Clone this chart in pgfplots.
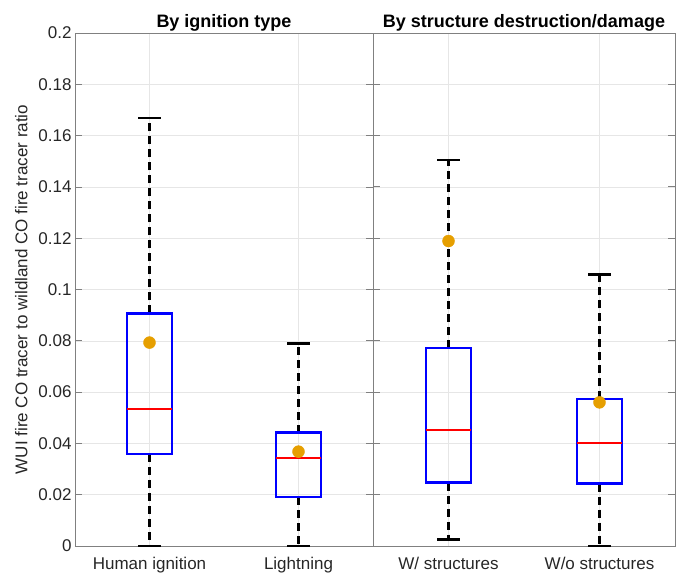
\documentclass[border=0pt]{standalone}
\usepackage{pgfplots}
\pgfplotsset{compat=1.18}
\usepackage{fontspec}
\setmainfont{Liberation Sans}
\definecolor{meanorange}{HTML}{E69F00}
\definecolor{axgray}{HTML}{808080}
\definecolor{gridgray}{HTML}{E6E6E6}
\definecolor{txt}{HTML}{262626}
\definecolor{mblue}{HTML}{0000FF}
\definecolor{mred}{HTML}{FF0000}
\pgfplotsset{
  panel/.style={
    scale only axis, height=513pt,
    xmin=0.5, xmax=2.5, ymin=0, ymax=0.2,
    xtick={1,2},
    ytick={0,0.02,0.04,0.06,0.08,0.1,0.12,0.14,0.16,0.18,0.2},
    scaled y ticks=false,
    yticklabel style={/pgf/number format/fixed, /pgf/number format/precision=2, /pgf/number format/assume math mode=true},
    tick label style={font=\fontsize{17}{20}\selectfont, text=txt},
    xticklabel style={yshift=-8pt},
    title style={font=\bfseries\fontsize{18}{21}\selectfont, text=black, yshift=-8pt},
    grid=major, major grid style={gridgray, line width=0.6pt},
    axis line style={axgray, line width=0.8pt},
    ytick style={axgray, line width=0.8pt},
    xtick style={draw=none},
    major tick length=7pt,
    tick align=inside,
    clip=false,
  },
  boxs/.style={mblue, line width=2.4pt, solid, no marks, line join=miter},
  meds/.style={mred, line width=2pt, no marks},
  whis/.style={black, line width=2.4pt, no marks, dash pattern=on 8pt off 5pt},
  caps/.style={black, line width=2.4pt, no marks, solid},
  mstyle/.style={only marks, mark=*, mark size=6pt, meanorange},
}
\begin{document}
\begin{tikzpicture}
\begin{axis}[panel, name=L, width=298pt,
  title={By ignition type},
  xticklabels={Human ignition, Lightning},
  ylabel={WUI fire CO tracer to wildland CO fire tracer ratio},
  ylabel style={font=\fontsize{17}{20}\selectfont, text=txt, yshift=4pt},
]
% Human ignition
\addplot[whis] coordinates {(1,0.0907) (1,0.1669)};
\addplot[whis] coordinates {(1,0.0359) (1,0.0)};
\addplot[caps] coordinates {(0.925,0.1669) (1.075,0.1669)};
\addplot[caps] coordinates {(0.925,0.0) (1.075,0.0)};
\addplot[boxs] coordinates {(0.85,0.0359) (1.15,0.0359) (1.15,0.0907) (0.85,0.0907) (0.85,0.0359) (1.15,0.0359)};
\addplot[meds] coordinates {(0.85,0.0533) (1.15,0.0533)};
% Lightning
\addplot[whis] coordinates {(2,0.0442) (2,0.0790)};
\addplot[whis] coordinates {(2,0.0190) (2,0.0)};
\addplot[caps] coordinates {(1.925,0.0790) (2.075,0.0790)};
\addplot[caps] coordinates {(1.925,0.0) (2.075,0.0)};
\addplot[boxs] coordinates {(1.85,0.0190) (2.15,0.0190) (2.15,0.0442) (1.85,0.0442) (1.85,0.0190) (2.15,0.0190)};
\addplot[meds] coordinates {(1.85,0.0342) (2.15,0.0342)};
\addplot[mstyle] coordinates {(1,0.0793) (2,0.0368)};
\end{axis}
\begin{axis}[panel, name=R, width=302pt, at={(L.south east)}, anchor=south west,
  title={By structure destruction/damage},
  xticklabels={W/ structures, W/o structures},
  yticklabels={},
]
% W/ structures
\addplot[whis] coordinates {(1,0.0771) (1,0.1505)};
\addplot[whis] coordinates {(1,0.0247) (1,0.0026)};
\addplot[caps] coordinates {(0.925,0.1505) (1.075,0.1505)};
\addplot[caps] coordinates {(0.925,0.0026) (1.075,0.0026)};
\addplot[boxs] coordinates {(0.85,0.0247) (1.15,0.0247) (1.15,0.0771) (0.85,0.0771) (0.85,0.0247) (1.15,0.0247)};
\addplot[meds] coordinates {(0.85,0.0452) (1.15,0.0452)};
% W/o structures
\addplot[whis] coordinates {(2,0.0572) (2,0.1059)};
\addplot[whis] coordinates {(2,0.0243) (2,0.0)};
\addplot[caps] coordinates {(1.925,0.1059) (2.075,0.1059)};
\addplot[caps] coordinates {(1.925,0.0) (2.075,0.0)};
\addplot[boxs] coordinates {(1.85,0.0243) (2.15,0.0243) (2.15,0.0572) (1.85,0.0572) (1.85,0.0243) (2.15,0.0243)};
\addplot[meds] coordinates {(1.85,0.0403) (2.15,0.0403)};
\addplot[mstyle] coordinates {(1,0.1189) (2,0.0560)};
\end{axis}
\pgfresetboundingbox
\path[use as bounding box] ([shift={(-75pt,-30pt)}]L.south west) rectangle ([shift={(9pt,33pt)}]R.north east);
\end{tikzpicture}
\end{document}
